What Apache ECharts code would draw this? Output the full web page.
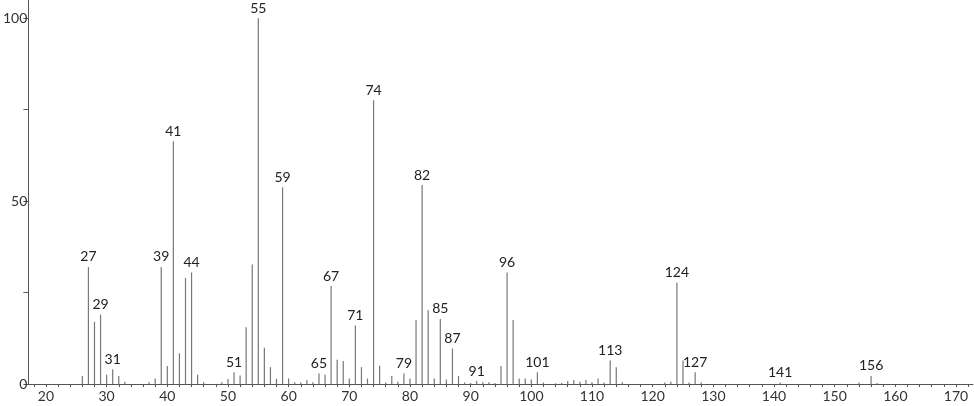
<!DOCTYPE html>
<html>
<head>
<meta charset="utf-8">
<script src="https://cdn.jsdelivr.net/npm/echarts@6/dist/echarts.min.js"></script>
<style>html,body{margin:0;padding:0;background:#fff}#c{width:974px;height:406px}</style>
</head>
<body>
<div id="c"></div>
<script>
const mz = [26,27,28,29,30,31,32,33,37,38,39,40,41,42,43,44,45,46,49,50,51,52,53,54,55,56,57,58,59,60,61,62,63,64,65,66,67,68,69,70,71,72,73,74,75,76,77,78,79,80,81,82,83,84,85,86,87,88,89,90,91,92,93,94,95,96,97,98,99,100,101,102,104,105,106,107,108,109,110,111,112,113,114,115,122,123,124,125,126,127,128,141,154,156,157];
const intensity = [2.2,32,17,19,2.5,4.0,2.2,0.6,0.5,1.5,32,4.9,66.4,8.4,29,30.5,2.5,0.5,0.5,1.4,3.2,2.3,15.5,32.7,100,9.9,4.6,1.4,53.8,1.5,0.5,0.4,1.1,0.5,2.9,2.5,26.8,6.6,6.3,1.5,16,4.6,1.5,77.6,5.0,0.4,2.2,0.6,2.9,1.5,17.5,54.4,20.2,1.5,17.8,1.2,9.7,2.2,0.4,0.3,0.8,0.5,0.5,0.3,4.9,30.5,17.5,1.5,1.5,1.2,3.2,0.4,0.2,0.3,0.8,1.1,0.6,1.1,0.5,1.5,0.4,6.4,4.6,0.5,0.4,0.6,27.7,6.4,0.4,3.2,0.4,0.4,0.4,2.2,0.3];
const labeledPeaks = [27,29,31,39,41,44,51,55,59,65,67,71,74,79,82,85,87,91,96,101,113,124,127,141,156];
const xTickValues = [18,20,22,24,26,28,30,32,34,36,38,40,42,44,46,48,50,52,54,56,58,60,62,64,66,68,70,72,74,76,78,80,82,84,86,88,90,92,94,96,98,100,102,104,106,108,110,112,114,116,118,120,122,124,126,128,130,132,134,136,138,140,142,144,146,148,150,152,154,156,158,160,162,164,166,168,170,172];
const xLabelValues = [20,30,40,50,60,70,80,90,100,110,120,130,140,150,160,170];
const yTickValues = [0,25,50,75,100];
const yLabelValues = [0,50,100];

const font = 'Lato, "DejaVu Sans", sans-serif';
const data = mz.map((m, i) => [m, intensity[i]]);

const chart = echarts.init(document.getElementById('c'), null, {renderer: 'canvas'});
chart.setOption({
  animation: false,
  backgroundColor: '#fff',
  grid: {left: 28, right: 1, top: 0, bottom: 22, containLabel: false},
  xAxis: {
    type: 'value', min: 17.1, max: 172.8,
    axisLine: {show: true, onZero: false, lineStyle: {color: '#555', width: 1}},
    axisTick: {show: true, length: 3, customValues: xTickValues, lineStyle: {color: '#555'}},
    axisLabel: {show: true, customValues: xLabelValues, color: '#333', fontSize: 14, fontFamily: font, margin: 5},
    splitLine: {show: false}
  },
  yAxis: {
    type: 'value', min: 0, max: 105,
    axisLine: {show: true, lineStyle: {color: '#555', width: 1}},
    axisTick: {show: true, length: 5, customValues: yTickValues, lineStyle: {color: '#555'}},
    axisLabel: {show: true, customValues: yLabelValues, color: '#333', fontSize: 14, fontFamily: font, margin: 1},
    splitLine: {show: false}
  },
  series: [{
    type: 'bar',
    data: data,
    barWidth: 1.2,
    itemStyle: {color: '#777'},
    label: {
      show: true, position: 'top', distance: 3,
      color: '#222', fontSize: 14, fontFamily: font,
      formatter: p => labeledPeaks.includes(p.value[0]) ? String(p.value[0]) : ''
    }
  }]
});
</script>
</body>
</html>
